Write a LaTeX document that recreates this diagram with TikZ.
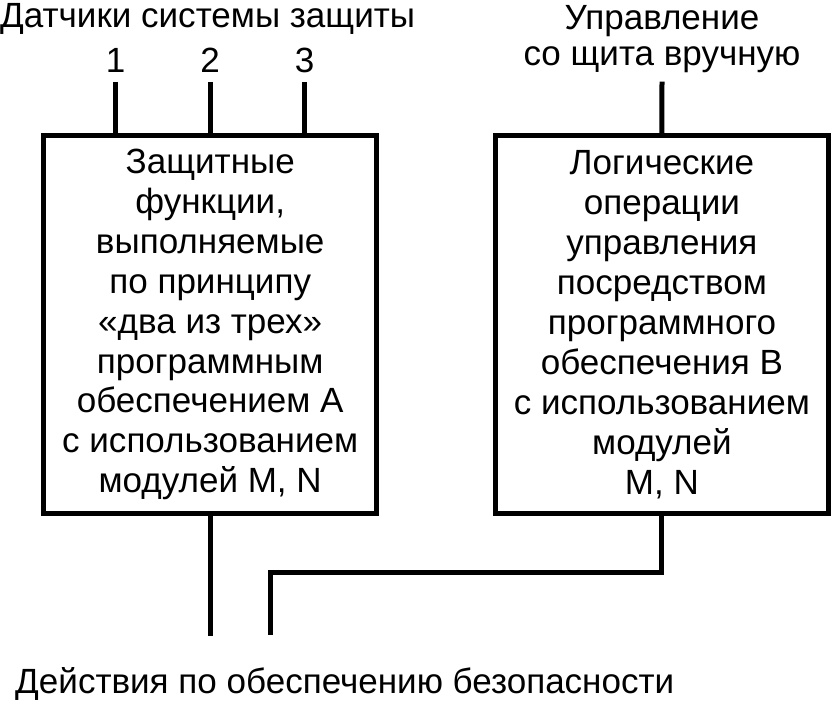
\documentclass[tikz,border=0pt]{standalone}
\usepackage{fontspec}
\setmainfont{Liberation Sans}
\begin{document}
\begin{tikzpicture}[
    block/.style={draw=black,line width=1.5mm,align=center,
                  minimum width=10cm,minimum height=11.32cm,inner sep=0pt,
                  font=\fontsize{29.9}{34.1}\selectfont},
    wire/.style={line width=1.5mm,draw=black},
    note/.style={inner sep=0pt,font=\fontsize{29.9}{30.7}\selectfont},
    sensor/.style={inner xsep=0pt,inner ysep=2.9mm,
                   font=\fontsize{29.9}{34.1}\selectfont}
  ]
    \useasboundingbox (0,0) rectangle (24.93,-21.03);

    \node[note,anchor=base west] (sens) at (0,-0.81) {Датчики системы защиты};
    \node[sensor,anchor=base] (s1) at (3.465,-2.16) {1};
    \node[sensor,anchor=base] (s2) at (6.30,-2.16) {2};
    \node[sensor,anchor=base] (s3) at (9.135,-2.16) {3};
    \node[note,align=center,anchor=south,inner ysep=2.5mm] (manual)
      at (19.86,-2.451) {Управление\\со щита вручную};

    \node[block] (prot) at (6.306,-9.735)
      {Защитные\\функции,\\выполняемые\\по принципу\\«два из трех»\\программным\\обеспечением А\\с использованием\\модулей M, N};
    \node[block] (logic) at (19.857,-9.735)
      {Логические\\операции\\управления\\посредством\\программного\\обеспечения В\\с использованием\\модулей\\M, N};

    \node[note,anchor=base west] (act) at (0.45,-20.79)
      {Действия по обеспечению безопасности};
    \coordinate (outA) at (6.306,-19.08);
    \coordinate (bend) at (8.10,-17.16);
    \coordinate (outB) at (8.10,-19.05);

    \draw[wire] (s1.south) -- (s1.south |- prot.north);
    \draw[wire] (s2.south) -- (s2.south |- prot.north);
    \draw[wire] (s3.south) -- (s3.south |- prot.north);
    \draw[wire] (manual.south) -- (logic.north);

    \draw[wire] (prot.south) -- (outA);
    \draw[wire] (logic.south) |- (bend) -- (outB);
  \end{tikzpicture}
\end{document}
